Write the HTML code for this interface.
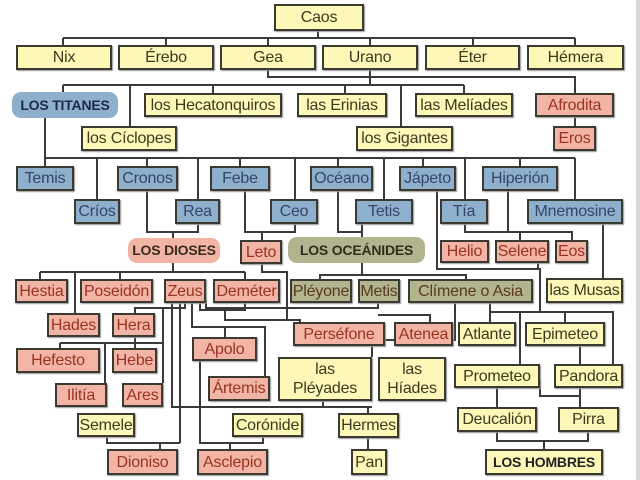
<!DOCTYPE html>
<html><head><meta charset="utf-8"><style>
body{margin:0;width:640px;height:480px;background:#fff;position:relative;overflow:hidden;font-family:"Liberation Sans",sans-serif}
.b{position:absolute;box-sizing:border-box;border:2px solid #3a3a30;display:flex;align-items:center;justify-content:center;font-size:16px;white-space:nowrap;box-shadow:1px 1px 1px #999;line-height:19px;text-align:center;letter-spacing:-0.2px}
.y{background:#fdf7b8;color:#3d3a20}
.u{background:#8fb0cc;color:#34466a}
.p{background:#f2b5a5;color:#9a3322}
.o{background:#b2b48e;color:#5a3a20}
.r{border:none;border-radius:9px;font-weight:bold;font-size:14px;box-shadow:none}
svg{position:absolute;left:0;top:0}
</style></head><body>
<svg width="640" height="480" stroke="#3a3a3a" stroke-width="2" fill="none">
<path d="M318 31V38M63 38H575M63 38V45M166 38V45M268 38V45M370 38V45M473 38V45M575 38V45"/>
<path d="M268 70V77H575V93M370 70V85M63 85H464M63 85V93M130 85V126M213 85V93M345 85V93M401 85V126M464 85V93M575 117V126"/>
<path d="M45 117V166M45 158H575M97 158V199M147 158V166M198 158V199M240 158V166M295 158V199M338 158V166M384 158V199M423 158V166M465 158V199M520 158V166M575 158V199"/>
<path d="M147 191V232H198V224M173 232V240M245 191V232H295V224M262 232V240M338 191V232H362V224M362 232V237"/>
<path d="M465 224V232H572V240M508 191V232M520 232V240M437 191V269H540V312M603 224V278"/>
<path d="M490 303V312H613V364M520 312V364M565 312V322M490 312V322"/>
<path d="M173 262V272M40 272H245M40 272V279M75 272V313M120 272V279M245 272V279"/>
<path d="M135 337V343M60 343H163M60 343V348M135 343V348M105 343V383M163 308V383M135 313V308H185V303"/>
<path d="M172 303V407H372M180 303V443M107 437V443H180M160 443V449M200 361V443H263V437M230 443V449M323 401V406M368 406V413M368 438V449"/>
<path d="M192 303V327H265V376M225 327V337M200 303V310H245V303M225 310V320H300V322M262 264V272H287V320"/>
<path d="M206 300V308H378V303M378 315H430V322M362 263V275H320V279M362 275H466V279M455 303V340H372V357M538 263V268"/>
<path d="M497 388V407M580 388V407M580 346V396H540V380M497 432V441H588V432M544 441V449"/>
</svg>
<div class="b y" style="left:274px;top:4px;width:90px;height:27px">Caos</div>
<div class="b y" style="left:16px;top:45px;width:96px;height:25px">Nix</div>
<div class="b y" style="left:118px;top:45px;width:96px;height:25px">Érebo</div>
<div class="b y" style="left:220px;top:45px;width:96px;height:25px">Gea</div>
<div class="b y" style="left:322px;top:45px;width:96px;height:25px">Urano</div>
<div class="b y" style="left:425px;top:45px;width:95px;height:25px">Éter</div>
<div class="b y" style="left:527px;top:45px;width:97px;height:25px">Hémera</div>
<div class="b u r" style="left:12px;top:92px;width:106px;height:26px;color:#1c2a45">LOS TITANES</div>
<div class="b y" style="left:144px;top:93px;width:138px;height:24px">los Hecatonquiros</div>
<div class="b y" style="left:297px;top:93px;width:90px;height:24px">las Erinias</div>
<div class="b y" style="left:415px;top:93px;width:98px;height:24px">las Melíades</div>
<div class="b p" style="left:535px;top:93px;width:79px;height:24px">Afrodita</div>
<div class="b y" style="left:81px;top:126px;width:96px;height:25px">los Cíclopes</div>
<div class="b y" style="left:356px;top:126px;width:97px;height:25px">los Gigantes</div>
<div class="b p" style="left:553px;top:126px;width:43px;height:25px">Eros</div>
<div class="b u" style="left:16px;top:166px;width:58px;height:25px">Temis</div>
<div class="b u" style="left:117px;top:166px;width:61px;height:25px">Cronos</div>
<div class="b u" style="left:210px;top:166px;width:60px;height:25px">Febe</div>
<div class="b u" style="left:310px;top:166px;width:63px;height:25px">Océano</div>
<div class="b u" style="left:399px;top:166px;width:57px;height:25px">Jápeto</div>
<div class="b u" style="left:482px;top:166px;width:76px;height:25px">Hiperión</div>
<div class="b u" style="left:74px;top:199px;width:46px;height:25px">Críos</div>
<div class="b u" style="left:175px;top:199px;width:45px;height:25px">Rea</div>
<div class="b u" style="left:270px;top:199px;width:48px;height:25px">Ceo</div>
<div class="b u" style="left:355px;top:199px;width:58px;height:25px">Tetis</div>
<div class="b u" style="left:440px;top:199px;width:48px;height:25px">Tía</div>
<div class="b u" style="left:527px;top:199px;width:96px;height:25px">Mnemosine</div>
<div class="b p r" style="left:128px;top:238px;width:92px;height:25px;color:#3a2a20">LOS DIOSES</div>
<div class="b p" style="left:240px;top:240px;width:42px;height:24px">Leto</div>
<div class="b o r" style="left:288px;top:237px;width:137px;height:26px;color:#2e2e1e">LOS OCEÁNIDES</div>
<div class="b p" style="left:440px;top:240px;width:49px;height:23px">Helio</div>
<div class="b p" style="left:495px;top:240px;width:54px;height:23px">Selene</div>
<div class="b p" style="left:555px;top:240px;width:33px;height:23px">Eos</div>
<div class="b p" style="left:15px;top:279px;width:53px;height:24px">Hestia</div>
<div class="b p" style="left:80px;top:279px;width:73px;height:24px">Poseidón</div>
<div class="b p" style="left:164px;top:279px;width:42px;height:24px">Zeus</div>
<div class="b p" style="left:213px;top:279px;width:67px;height:24px">Deméter</div>
<div class="b o" style="left:290px;top:279px;width:62px;height:24px">Pléyone</div>
<div class="b o" style="left:358px;top:279px;width:42px;height:24px">Metis</div>
<div class="b o" style="left:408px;top:279px;width:125px;height:24px">Clímene o Asia</div>
<div class="b y" style="left:546px;top:278px;width:77px;height:25px">las Musas</div>
<div class="b p" style="left:47px;top:313px;width:53px;height:24px">Hades</div>
<div class="b p" style="left:112px;top:313px;width:43px;height:24px">Hera</div>
<div class="b p" style="left:293px;top:322px;width:92px;height:24px">Perséfone</div>
<div class="b p" style="left:394px;top:322px;width:59px;height:24px">Atenea</div>
<div class="b y" style="left:458px;top:322px;width:58px;height:24px">Atlante</div>
<div class="b y" style="left:525px;top:322px;width:80px;height:24px">Epimeteo</div>
<div class="b p" style="left:192px;top:337px;width:65px;height:24px">Apolo</div>
<div class="b p" style="left:16px;top:348px;width:84px;height:25px">Hefesto</div>
<div class="b p" style="left:112px;top:348px;width:45px;height:25px">Hebe</div>
<div class="b y" style="left:278px;top:357px;width:94px;height:44px">las<br>Pléyades</div>
<div class="b y" style="left:378px;top:357px;width:68px;height:44px">las<br>Híades</div>
<div class="b y" style="left:454px;top:364px;width:86px;height:24px">Prometeo</div>
<div class="b y" style="left:554px;top:364px;width:69px;height:24px">Pandora</div>
<div class="b p" style="left:208px;top:376px;width:62px;height:25px">Ártemis</div>
<div class="b p" style="left:55px;top:383px;width:52px;height:24px">Ilitía</div>
<div class="b p" style="left:122px;top:383px;width:41px;height:24px">Ares</div>
<div class="b y" style="left:457px;top:407px;width:80px;height:25px">Deucalión</div>
<div class="b y" style="left:558px;top:407px;width:61px;height:25px">Pirra</div>
<div class="b y" style="left:77px;top:413px;width:58px;height:24px">Semele</div>
<div class="b y" style="left:232px;top:413px;width:71px;height:24px">Corónide</div>
<div class="b y" style="left:338px;top:413px;width:61px;height:25px">Hermes</div>
<div class="b p" style="left:107px;top:449px;width:71px;height:26px">Dioniso</div>
<div class="b p" style="left:197px;top:449px;width:71px;height:26px">Asclepio</div>
<div class="b y" style="left:351px;top:449px;width:36px;height:26px">Pan</div>
<div class="b y" style="left:485px;top:449px;width:118px;height:26px;font-weight:bold;font-size:14px;color:#222">LOS HOMBRES</div>
<div style="position:absolute;left:636px;top:0;width:4px;height:480px;background:#d8d8d8"></div>
</body></html>
